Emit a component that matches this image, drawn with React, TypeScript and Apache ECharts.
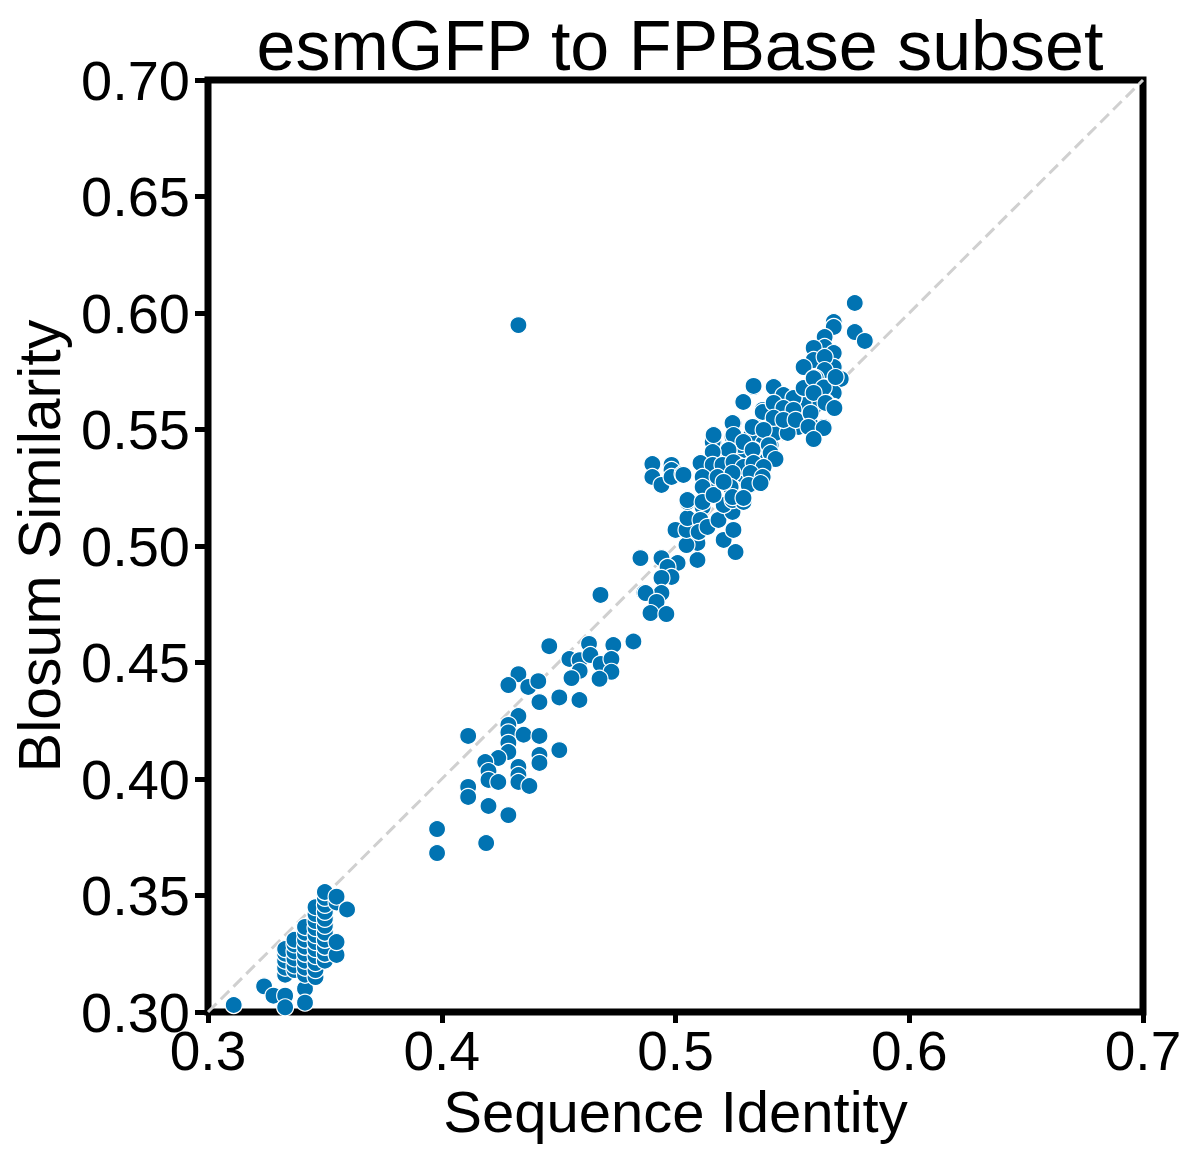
import React, { useEffect, useRef } from "react";
import * as echarts from "echarts";

const TITLE = "esmGFP to FPBase subset";
const X_NAME = "Sequence Identity";
const Y_NAME = "Blosum Similarity";

const X_MIN = 0.3, X_MAX = 0.7, X_STEP = 0.1;
const Y_MIN = 0.3, Y_MAX = 0.7, Y_STEP = 0.05;

const diagonal = [[0.3, 0.3], [0.7, 0.7]];

// low-identity cluster
const clusterLow: number[][] = [
  [0.311, 0.303], [0.324, 0.311], [0.328, 0.307], [0.333, 0.307], [0.333, 0.302], [0.3415, 0.310], [0.3415, 0.304],
  [0.333, 0.316], [0.333, 0.319], [0.333, 0.322], [0.333, 0.325], [0.333, 0.327],
  [0.337, 0.318], [0.337, 0.320], [0.337, 0.323], [0.337, 0.326], [0.337, 0.329], [0.337, 0.331],
  [0.3415, 0.316], [0.3415, 0.319], [0.3415, 0.322], [0.3415, 0.325], [0.3415, 0.328], [0.3415, 0.331], [0.3415, 0.334], [0.3415, 0.3365],
  [0.346, 0.315], [0.346, 0.318], [0.346, 0.321], [0.346, 0.324], [0.346, 0.327], [0.346, 0.330], [0.346, 0.333], [0.346, 0.336], [0.346, 0.339], [0.346, 0.342], [0.346, 0.345],
  [0.350, 0.322], [0.350, 0.325], [0.350, 0.328], [0.350, 0.331], [0.350, 0.334], [0.350, 0.337], [0.350, 0.340], [0.350, 0.343], [0.350, 0.346], [0.350, 0.349], [0.350, 0.3515],
  [0.355, 0.3245], [0.355, 0.330], [0.355, 0.347], [0.355, 0.3495], [0.3595, 0.344],
];

// middle cluster
const clusterMid: number[][] = [
  [0.4679, 0.479], [0.4867, 0.480],
  [0.446, 0.457], [0.463, 0.458], [0.4734, 0.4575], [0.482, 0.459],
  [0.4546, 0.4515], [0.459, 0.451], [0.4636, 0.4532], [0.468, 0.4494], [0.4726, 0.4515], [0.4726, 0.446], [0.459, 0.4464], [0.4555, 0.4433], [0.4675, 0.443],
  [0.4328, 0.445], [0.4285, 0.4403], [0.437, 0.4395], [0.4413, 0.442], [0.4418, 0.433], [0.4503, 0.435], [0.4589, 0.4339],
  [0.4328, 0.427], [0.4285, 0.4232], [0.4285, 0.420], [0.4113, 0.4185], [0.435, 0.419], [0.4418, 0.4185], [0.4285, 0.4155], [0.4285, 0.4116],
  [0.4503, 0.4124], [0.4418, 0.4103], [0.4418, 0.4069], [0.4242, 0.409], [0.4186, 0.4073], [0.420, 0.4034], [0.420, 0.3996], [0.4242, 0.3987],
  [0.4328, 0.4052], [0.4328, 0.4017], [0.4328, 0.3987], [0.4375, 0.397], [0.4113, 0.3966], [0.4113, 0.3923], [0.420, 0.3884], [0.4285, 0.3845],
  [0.398, 0.3785], [0.398, 0.3682], [0.419, 0.3725],
  [0.4328, 0.5948],
];

// high-identity cluster
const clusterHigh: number[][] = [
  [0.4901, 0.5352], [0.4901, 0.5296], [0.494, 0.5262], [0.4983, 0.5348], [0.4983, 0.5326], [0.4983, 0.5296], [0.503, 0.5309],
  [0.485, 0.4948], [0.494, 0.4948], [0.5009, 0.4927], [0.4966, 0.491], [0.4983, 0.4867], [0.494, 0.4863], [0.494, 0.4798], [0.4872, 0.4798],
  [0.4919, 0.476], [0.4893, 0.4712], [0.4961, 0.4708],
  [0.5094, 0.494], [0.5094, 0.5013], [0.5047, 0.5004], [0.500, 0.5069], [0.5047, 0.5069], [0.5051, 0.512], [0.5051, 0.5189], [0.5116, 0.5167],
  [0.5116, 0.5253], [0.5163, 0.5219], [0.5107, 0.5112], [0.5099, 0.506], [0.5137, 0.5082], [0.5184, 0.5112], [0.5206, 0.5026], [0.5248, 0.5069],
  [0.5257, 0.4974], [0.5244, 0.5146], [0.5206, 0.5176], [0.5244, 0.5197], [0.5291, 0.5189], [0.5163, 0.5275],
  [0.5116, 0.536], [0.5159, 0.5348], [0.5201, 0.5356], [0.5159, 0.5403], [0.5159, 0.5455], [0.5227, 0.5412], [0.5248, 0.5476], [0.5244, 0.5528],
  [0.5248, 0.5326], [0.5291, 0.5348], [0.533, 0.5296], [0.5321, 0.5262], [0.5364, 0.5275], [0.5334, 0.5412], [0.5291, 0.5399], [0.5334, 0.5506],
  [0.5377, 0.5498], [0.5428, 0.5369], [0.5407, 0.5433], [0.542, 0.5485], [0.5462, 0.5532], [0.5373, 0.536], [0.518, 0.5313], [0.5223, 0.5296],
  [0.5767, 0.6043], [0.5767, 0.5918], [0.581, 0.588], [0.5677, 0.5961], [0.5677, 0.594], [0.5638, 0.5897], [0.5638, 0.5854], [0.5591, 0.585],
  [0.5591, 0.5798], [0.5677, 0.5828], [0.5677, 0.5768], [0.5638, 0.5811], [0.5638, 0.5755], [0.5548, 0.5768], [0.56, 0.5721], [0.5707, 0.5717],
  [0.5548, 0.5678], [0.5591, 0.5657], [0.5642, 0.5682], [0.5677, 0.5657], [0.5642, 0.5618], [0.5677, 0.5597], [0.5591, 0.5597], [0.5634, 0.5511],
  [0.5591, 0.5455], [0.5578, 0.552], [0.5548, 0.5614], [0.5505, 0.5635], [0.5462, 0.5648], [0.5424, 0.5678], [0.5334, 0.5682], [0.5291, 0.5618],
  [0.5462, 0.5592], [0.542, 0.5597], [0.5373, 0.5584], [0.5373, 0.5528], [0.5415, 0.555], [0.5462, 0.555], [0.5505, 0.5575], [0.5527, 0.5511],
  [0.5248, 0.5528], [0.5244, 0.5468], [0.533, 0.5511], [0.5377, 0.5498], [0.5428, 0.5485], [0.5321, 0.5468], [0.548, 0.5485], [0.5428, 0.5369],
  [0.5377, 0.5442], [0.5334, 0.5412], [0.5278, 0.5433], [0.5227, 0.5403], [0.5163, 0.5446], [0.5163, 0.5399], [0.512, 0.5356], [0.5193, 0.5356],
  [0.5266, 0.5348], [0.5321, 0.5348], [0.5291, 0.5305], [0.5244, 0.5313], [0.5364, 0.5318], [0.5321, 0.527],
  [0.5334, 0.5687], [0.529, 0.5618], [0.542, 0.5682], [0.5462, 0.5648], [0.5505, 0.5635], [0.5548, 0.5678], [0.5591, 0.572], [0.5634, 0.568],
  [0.5685, 0.5725], [0.5591, 0.5657], [0.5642, 0.5614], [0.568, 0.5592], [0.5373, 0.5575], [0.542, 0.5614], [0.5462, 0.5592], [0.5505, 0.5584],
  [0.542, 0.555], [0.5462, 0.5541], [0.5514, 0.5541], [0.5578, 0.5571], [0.5569, 0.5511], [0.5634, 0.5506], [0.5591, 0.5459], [0.5244, 0.5528],
  [0.533, 0.5511], [0.5377, 0.5498], [0.5248, 0.5476], [0.5159, 0.5446], [0.5163, 0.5476], [0.5291, 0.5446], [0.533, 0.5412], [0.5399, 0.5433],
  [0.5227, 0.5412], [0.5407, 0.5399], [0.5428, 0.5373], [0.5159, 0.5403], [0.5107, 0.5356], [0.5159, 0.5348], [0.5201, 0.5348], [0.5248, 0.536],
  [0.5291, 0.5339], [0.5334, 0.5356], [0.5377, 0.5339], [0.5034, 0.5305], [0.5116, 0.5296], [0.518, 0.5296], [0.5244, 0.5313], [0.5321, 0.5313],
  [0.5373, 0.5296], [0.5116, 0.5253], [0.5236, 0.5253], [0.5313, 0.5262], [0.5364, 0.527], [0.5051, 0.5197], [0.5116, 0.5189], [0.5163, 0.5219],
  [0.5244, 0.521], [0.5291, 0.5206], [0.5206, 0.5275],
];

const FONT = "'Liberation Sans', Arial, Helvetica, sans-serif";
const POINT_COLOR = "#0173b2";

export default function App() {
  const ref = useRef<HTMLDivElement>(null);
  useEffect(() => {
    if (!ref.current) return;
    const chart = echarts.init(ref.current, null, { renderer: "svg" });
    const points = [...clusterLow, ...clusterMid, ...clusterHigh];
    chart.setOption({
      animation: false,
      backgroundColor: "#ffffff",
      title: {
        text: TITLE,
        left: 675,
        textAlign: "center",
        top: 6,
        textStyle: { fontFamily: FONT, fontSize: 70, fontWeight: "normal", color: "#000" },
      },
      grid: {
        left: 208,
        right: 57,
        top: 80,
        bottom: 152,
        show: true,
        borderColor: "#000",
        borderWidth: 7,
        backgroundColor: "transparent",
      },
      xAxis: {
        type: "value",
        min: X_MIN,
        max: X_MAX,
        interval: X_STEP,
        name: X_NAME,
        nameLocation: "middle",
        nameGap: 66,
        nameTextStyle: { fontFamily: FONT, fontSize: 58, color: "#000" },
        axisLine: { show: false },
        axisTick: { show: true, length: 11, lineStyle: { color: "#000", width: 5 } },
        axisLabel: {
          fontFamily: FONT,
          fontSize: 55,
          color: "#000",
          margin: 11,
          formatter: (v: number) => v.toFixed(1),
        },
        splitLine: { show: false },
      },
      yAxis: {
        type: "value",
        min: Y_MIN,
        max: Y_MAX,
        interval: Y_STEP,
        name: Y_NAME,
        nameLocation: "middle",
        nameGap: 139,
        nameTextStyle: { fontFamily: FONT, fontSize: 59, color: "#000" },
        axisLine: { show: false },
        axisTick: { show: true, length: 13, lineStyle: { color: "#000", width: 5 } },
        axisLabel: {
          fontFamily: FONT,
          fontSize: 56,
          color: "#000",
          margin: 18,
          formatter: (v: number) => v.toFixed(2),
        },
        splitLine: { show: false },
      },
      series: [
        {
          type: "line",
          data: diagonal,
          showSymbol: false,
          silent: true,
          z: 1,
          lineStyle: { color: "#d0d0d0", width: 3, type: [12, 6] },
        },
        {
          type: "scatter",
          data: points,
          symbolSize: 17,
          z: 3,
          itemStyle: { color: POINT_COLOR, borderColor: "#ffffff", borderWidth: 1.2, opacity: 1 },
        },
      ],
    });
    return () => chart.dispose();
  }, []);
  return (
    <div
      ref={ref}
      style={{ position: "fixed", left: 0, top: 0, width: 1200, height: 1164, background: "#fff" }}
    />
  );
}
